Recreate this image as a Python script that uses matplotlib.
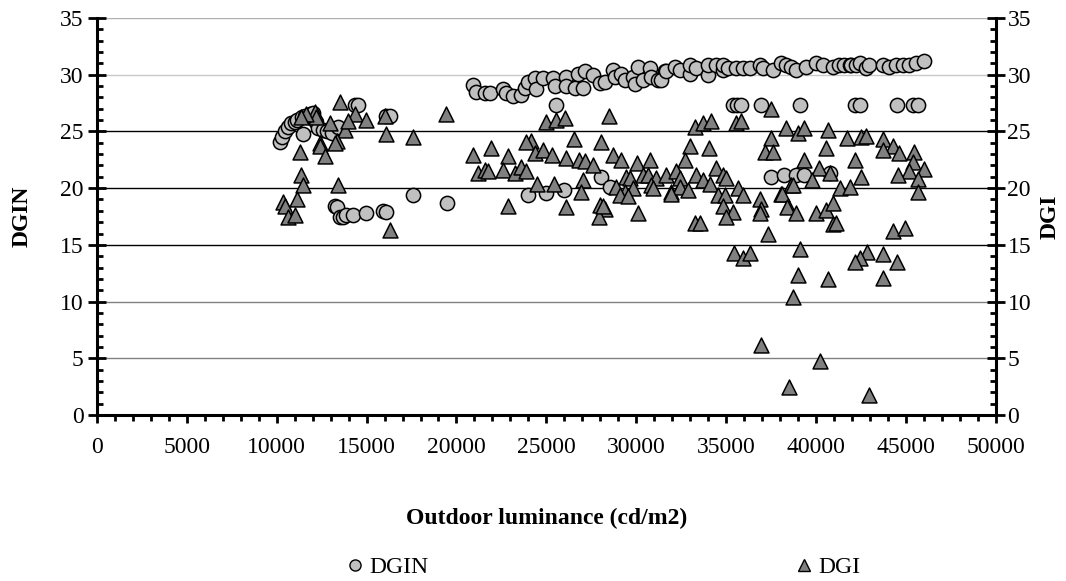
import matplotlib.pyplot as plt
from matplotlib.lines import Line2D
from matplotlib.ticker import MultipleLocator

plt.rcParams['font.family'] = ['Liberation Serif', 'DejaVu Serif']

# DGIN (circles) - outdoor luminance vs DGIN
dgin_x = [10200, 10300, 10450, 10650, 10820, 11000, 11100, 11380, 11470, 11600,
          11840, 12000, 12200, 12300, 12580, 12800, 13050, 13420, 14350, 14500,
          16100, 16290,
          13230, 13380, 13510, 13700, 13880, 14250, 14990, 15920, 16100, 17590, 19460,
          23980, 24960, 25980, 28060, 28520, 37510, 38250, 38900, 39360, 40760,
          25560, 35380, 35600, 35840, 36960, 39130, 42150, 42480, 44520, 45390, 45670,
          20920, 21110, 21570, 21850, 22590, 22780, 23150, 23610, 23800, 23980,
          24350, 24450, 24820, 25370, 25460, 26120, 26120, 26580, 26770, 27130,
          27040, 27600, 27970, 28250, 28710, 28800, 29170, 29360, 29820, 30100,
          29910, 30370, 30750, 30840, 31210, 31580, 31400, 31670, 32140, 32420,
          32970, 32970, 33340, 33990, 33990, 34450, 34820, 34820, 35100, 35560,
          35930, 36310, 36870, 37050, 37600, 38070, 38340, 38620, 38900, 39460,
          40020, 40380, 40940, 41310, 41590, 41870, 41960, 42240, 42430, 42800,
          42980, 43720, 44090, 44460, 44830, 45200, 45570, 46040]
dgin_y = [24.1, 24.5, 25.0, 25.4, 25.7, 25.8, 26.0, 26.3, 24.8, 26.4,
          26.5, 26.6, 25.8, 25.3, 25.1, 25.0, 24.9, 25.4, 27.3, 27.3,
          26.4, 26.4,
          18.4, 18.3, 17.5, 17.5, 17.6, 17.6, 17.8, 18.0, 17.9, 19.4, 18.7,
          19.4, 19.6, 19.8, 21.0, 20.1, 21.0, 21.2, 21.2, 21.2, 21.3,
          27.3, 27.3, 27.3, 27.3, 27.3, 27.3, 27.3, 27.3, 27.3, 27.3, 27.3,
          29.1, 28.5, 28.4, 28.4, 28.7, 28.4, 28.1, 28.2, 28.8, 29.4,
          29.7, 28.7, 29.7, 29.7, 29.0, 29.8, 29.0, 28.8, 30.1, 30.3,
          28.8, 30.0, 29.3, 29.4, 30.4, 29.8, 30.1, 29.5, 29.8, 30.7,
          29.2, 29.5, 30.6, 29.8, 29.5, 30.3, 29.5, 30.3, 30.7, 30.4,
          30.1, 30.9, 30.6, 30.0, 30.9, 30.9, 30.4, 30.9, 30.6, 30.6,
          30.6, 30.6, 30.9, 30.6, 30.4, 31.0, 30.9, 30.7, 30.4, 30.7,
          31.0, 30.9, 30.7, 30.9, 30.9, 30.9, 30.9, 30.9, 31.0, 30.6,
          30.9, 30.9, 30.7, 30.9, 30.9, 30.9, 31.0, 31.2]

# DGI (triangles)
dgi_x = [13510, 14345, 14990, 16010, 12120, 12210, 11650, 11375, 12950, 13790,
         13330, 12400, 12400, 13230, 12680, 11290, 11375, 11470, 13420, 10360,
         10450, 10640, 11010, 11100, 16290, 16100, 17590, 13980, 19440,
         20920, 21940, 21200, 21570, 21760, 22870, 22590, 23240, 23610, 23890,
         24170, 23890, 24350, 24820, 25340, 24960, 25560, 26020, 24460, 25420,
         22840, 26120, 26120, 26530, 26820, 27130, 27600, 27040, 26910, 28060,
         28490, 28710, 27970, 28250, 27930,
         29170, 30040, 30750, 32970, 34050, 32690, 33250, 33710, 34170, 35560,
         35840, 37510, 37510, 37140, 37600, 29450, 29640, 30370, 30650, 31110,
         31670, 32230, 32410, 33340, 33710, 34450, 34820, 35010, 34080, 28900,
         29360, 29820, 30840, 30930, 31950, 32410, 32870, 31950, 29080, 29540,
         28150, 30100, 34540, 34920, 35650, 35930, 34820, 35380, 35010, 36870,
         36960, 36870, 38070, 38440, 37330, 33250, 33530, 35470, 35930, 36310,
         38620, 36960, 40200, 38530, 42980,
         38310, 38990, 39320, 40700, 40570, 41720, 42520, 42760, 43720, 44280,
         43720, 44650, 45430, 45390, 46000, 45200, 44550, 45670, 45670, 39360,
         40160, 40760, 42150, 42520, 39790, 38750, 41340, 41900, 38120, 38380,
         38870, 40020, 40570, 40940, 40940, 41130, 44310, 44980, 39130, 38990,
         38750, 40700, 42830, 42430, 42200, 43760, 44520, 43760]
dgi_y = [27.6, 26.5, 26.0, 26.4, 26.7, 26.3, 26.5, 26.3, 25.7, 25.1,
         24.2, 24.0, 23.7, 24.0, 22.8, 23.2, 21.2, 20.3, 20.3, 18.8,
         18.4, 17.5, 17.6, 19.0, 16.3, 24.8, 24.5, 25.9, 26.5,
         22.9, 23.5, 21.3, 21.6, 21.5, 22.8, 21.6, 21.3, 21.9, 21.5,
         24.2, 24.1, 23.1, 23.4, 22.9, 25.8, 26.0, 26.2, 20.4, 20.4,
         18.4, 18.3, 22.7, 24.3, 22.5, 22.4, 22.0, 20.7, 19.7, 24.1,
         26.4, 22.9, 18.5, 18.2, 17.5,
         22.5, 22.2, 22.5, 23.7, 23.5, 22.5, 25.4, 25.7, 25.9, 25.7,
         25.9, 27.0, 24.4, 23.2, 23.2, 21.0, 20.9, 21.2, 21.2, 20.9,
         21.2, 21.5, 20.9, 21.2, 20.7, 21.8, 21.2, 20.9, 20.4, 20.1,
         19.7, 20.0, 20.3, 20.0, 19.7, 20.1, 19.8, 19.5, 19.4, 19.3,
         18.4, 17.8, 19.4, 19.4, 20.0, 19.4, 18.4, 17.9, 17.5, 19.0,
         18.2, 17.8, 19.5, 18.4, 16.0, 16.9, 16.9, 14.3, 13.8, 14.3,
         20.3, 6.2, 4.8, 2.5, 1.8,
         25.3, 24.9, 25.3, 25.1, 23.5, 24.4, 24.5, 24.6, 24.3, 23.7,
         23.4, 23.1, 23.2, 22.3, 21.7, 21.5, 21.2, 20.8, 19.7, 22.5,
         21.8, 21.3, 22.5, 21.0, 20.7, 20.3, 20.0, 20.1, 19.5, 18.3,
         17.8, 17.8, 18.1, 18.7, 16.8, 16.9, 16.2, 16.5, 14.6, 12.3,
         10.4, 12.0, 14.4, 13.8, 13.5, 14.2, 13.5, 12.1]

FS = 17

fig = plt.figure(figsize=(10.66, 5.81), dpi=100)
ax = fig.add_axes([0.091, 0.2857, 0.843, 0.6833])
ax2 = ax.twinx()

# axis ranges / ticks
for a in (ax, ax2):
    a.set_xlim(0, 50000)
    a.set_ylim(0, 35)
    a.yaxis.set_major_locator(MultipleLocator(5))
    a.yaxis.set_minor_locator(MultipleLocator(1))
ax.xaxis.set_major_locator(MultipleLocator(5000))
ax.xaxis.set_minor_locator(MultipleLocator(1000))

# horizontal gridlines
ax.grid(axis='y', which='major', lw=1.0)
glcol = ['none', '#808080', '#808080', '#808080', '#000000', '#000000', '#000000', '#c8c8c8']
for gl, c in zip(ax.get_ygridlines(), glcol):
    gl.set_color(c)
ax.set_axisbelow(True)

for s in ('top', 'right'):
    ax.spines[s].set_visible(False)
for s in ('top', 'left', 'bottom'):
    ax2.spines[s].set_visible(False)
ax.spines['left'].set_linewidth(2.2)
ax.spines['bottom'].set_linewidth(2.2)
ax2.spines['right'].set_linewidth(2.2)

ax.tick_params(axis='y', which='major', direction='inout', length=13, width=2, labelsize=FS, pad=3)
ax.tick_params(axis='y', which='minor', direction='in', length=4, width=2)
ax.tick_params(axis='x', which='major', direction='out', length=6, width=2, labelsize=FS, pad=10)
ax.tick_params(axis='x', which='minor', direction='out', length=4, width=2)
ax2.tick_params(axis='y', which='major', direction='inout', length=13, width=2, labelsize=FS, pad=2)
ax2.tick_params(axis='y', which='minor', direction='in', length=4, width=2)

ax.scatter(dgin_x, dgin_y, s=105, marker='o', facecolor='#c0c0c0', edgecolor='black',
           linewidth=1.1, zorder=3, clip_on=False)
ax2.scatter(dgi_x, dgi_y, s=115, marker='^', facecolor='#808080', edgecolor='black',
            linewidth=1.1, zorder=3, clip_on=False)

ax.set_xlabel('Outdoor luminance (cd/m2)', fontsize=FS, fontweight='bold', labelpad=36)
ax.set_ylabel('DGIN', fontsize=FS, fontweight='bold', labelpad=20)
ax2.set_ylabel('DGI', fontsize=FS, fontweight='bold', labelpad=6)

h1 = Line2D([], [], ls='none', marker='o', ms=8, mfc='#c0c0c0', mec='black', mew=1)
h2 = Line2D([], [], ls='none', marker='^', ms=8, mfc='#808080', mec='black', mew=1)
fig.legend([h1, h2], ['DGIN', 'DGI'], loc='center', bbox_to_anchor=(0.567, 0.024),
           ncol=2, frameon=False, fontsize=FS, handlelength=0.6, handletextpad=0.3,
           columnspacing=15.6)

fig.savefig('out.png', dpi=100)
